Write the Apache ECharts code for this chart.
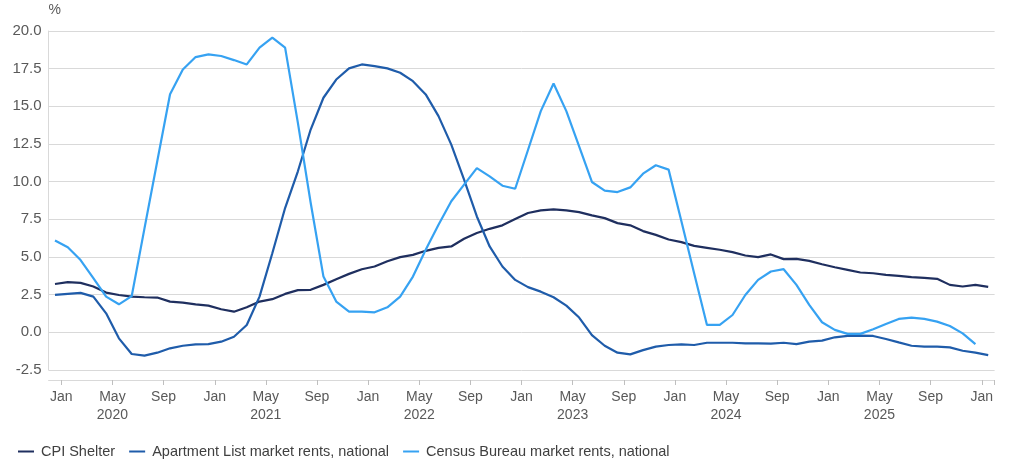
<!DOCTYPE html>
<html>
<head>
<meta charset="utf-8">
<script src="https://cdn.jsdelivr.net/npm/echarts@6/dist/echarts.min.js"></script>
<style>
  html, body { margin: 0; padding: 0; background: #ffffff; }
  #chart { width: 1024px; height: 461px; }
</style>
</head>
<body>
<div id="chart"></div>
<script>
// Monthly categories (first point Dec 2019, last Jan 2026)
const months = [
  "2019-12",
  "2020-01","2020-02","2020-03","2020-04","2020-05","2020-06","2020-07","2020-08","2020-09","2020-10","2020-11","2020-12",
  "2021-01","2021-02","2021-03","2021-04","2021-05","2021-06","2021-07","2021-08","2021-09","2021-10","2021-11","2021-12",
  "2022-01","2022-02","2022-03","2022-04","2022-05","2022-06","2022-07","2022-08","2022-09","2022-10","2022-11","2022-12",
  "2023-01","2023-02","2023-03","2023-04","2023-05","2023-06","2023-07","2023-08","2023-09","2023-10","2023-11","2023-12",
  "2024-01","2024-02","2024-03","2024-04","2024-05","2024-06","2024-07","2024-08","2024-09","2024-10","2024-11","2024-12",
  "2025-01","2025-02","2025-03","2025-04","2025-05","2025-06","2025-07","2025-08","2025-09","2025-10","2025-11","2025-12",
  "2026-01"
];

// Tick labels shown on the x axis
const tickMonthLabels = { "01": "Jan", "05": "May", "09": "Sep" };
const yearLabelMonth = "05";

// Series values (%)
const cpiShelter = [
  3.21, 3.33, 3.28, 3.04, 2.64, 2.48, 2.37, 2.33, 2.31, 2.04,
  1.97, 1.86, 1.77, 1.53, 1.37, 1.66, 2.04, 2.20, 2.55, 2.80,
  2.82, 3.15, 3.53, 3.88, 4.19, 4.37, 4.72, 4.99, 5.14, 5.41,
  5.61, 5.70, 6.21, 6.59, 6.87, 7.10, 7.52, 7.92, 8.09, 8.16,
  8.09, 7.98, 7.76, 7.58, 7.25, 7.10, 6.72, 6.47, 6.16, 5.99,
  5.74, 5.61, 5.48, 5.32, 5.10, 4.99, 5.17, 4.86, 4.88, 4.74,
  4.52, 4.32, 4.15, 3.97, 3.92, 3.81, 3.75, 3.66, 3.61, 3.55,
  3.15, 3.04, 3.15, 3.02
];

const apartmentList = [
  2.48, 2.55, 2.62, 2.37, 1.26, -0.40, -1.44, -1.55, -1.35, -1.06,
  -0.89, -0.80, -0.78, -0.62, -0.29, 0.49, 2.37, 5.25, 8.25, 10.69,
  13.46, 15.57, 16.78, 17.52, 17.78, 17.67, 17.52, 17.23, 16.67, 15.79,
  14.35, 12.46, 10.13, 7.69, 5.70, 4.37, 3.48, 3.00, 2.70, 2.33,
  1.77, 0.98, -0.18, -0.89, -1.35, -1.46, -1.18, -0.95, -0.84, -0.80,
  -0.84, -0.69, -0.69, -0.69, -0.73, -0.73, -0.75, -0.69, -0.78, -0.62,
  -0.55, -0.33, -0.24, -0.22, -0.24, -0.44, -0.67, -0.89, -0.95, -0.95,
  -1.00, -1.22, -1.35, -1.51
];

const censusBureau = [
  6.10, 5.65, 4.80, 3.60, 2.37, 1.86, 2.40, 6.90, 11.35, 15.80,
  17.45, 18.27, 18.45, 18.34, 18.07, 17.78, 18.90, 19.56, 18.90, 13.90,
  8.60, 3.70, 2.04, 1.37, 1.37, 1.33, 1.66, 2.37, 3.70, 5.48,
  7.14, 8.70, 9.80, 10.90, 10.35, 9.73, 9.53, 12.10, 14.68, 16.52,
  14.68, 12.35, 9.98, 9.40, 9.31, 9.62, 10.53, 11.09, 10.80, 7.38,
  3.90, 0.49, 0.49, 1.15, 2.48, 3.48, 4.04, 4.19, 3.15, 1.82,
  0.67, 0.16, -0.10, -0.10, 0.20, 0.55, 0.89, 0.98, 0.89, 0.71,
  0.42, -0.07, -0.78
];

const seriesNames = [
  "CPI Shelter",
  "Apartment List market rents, national",
  "Census Bureau market rents, national"
];
const seriesColors = ["#1f2f5f", "#1f5caa", "#36a2f2"];

const isTick = (index, value) => {
  const m = String(value).split("-")[1];
  return m in tickMonthLabels;
};

const chart = echarts.init(document.getElementById("chart"), null, { renderer: "canvas" });
const FONT = "'Liberation Sans', Arial, sans-serif";

chart.setOption({
  animation: false,
  backgroundColor: "#ffffff",
  grid: { left: 48.6, right: 29.4, top: 31, bottom: 91, containLabel: false },
  legend: {
    left: 13,
    top: 439,
    icon: "rect",
    itemWidth: 16,
    itemHeight: 2,
    itemGap: 14,
    textStyle: { fontFamily: FONT, fontSize: 14.5, color: "#404040", padding: [0, 0, 0, 2] },
    data: seriesNames
  },
  xAxis: {
    type: "category",
    data: months,
    boundaryGap: true,
    offset: 10,
    axisLine: { show: true, onZero: false, lineStyle: { color: "#d9d9d9", width: 1 } },
    axisTick: { show: true, interval: isTick, length: 5, lineStyle: { color: "#bfbfbf" } },
    splitLine: { show: false },
    axisLabel: {
      interval: isTick,
      margin: 8,
      fontFamily: FONT,
      fontSize: 14,
      color: "#595959",
      lineHeight: 18,
      align: "center",
      padding: [0, 13, 0, 0],
      formatter: (value) => {
        const [y, m] = value.split("-");
        const name = tickMonthLabels[m] || "";
        return m === yearLabelMonth ? name + "\n" + y : name;
      }
    }
  },
  yAxis: {
    type: "value",
    min: -2.5,
    max: 20,
    interval: 2.5,
    name: "%",
    nameLocation: "end",
    nameGap: 14,
    nameTextStyle: { fontFamily: FONT, fontSize: 14, color: "#595959", align: "left" },
    axisLine: { show: true, lineStyle: { color: "#d9d9d9", width: 1 } },
    axisTick: { show: false },
    splitLine: { show: true, lineStyle: { color: "#d9d9d9", width: 1 } },
    axisLabel: {
      margin: 7,
      fontFamily: FONT,
      fontSize: 15,
      color: "#595959",
      formatter: (v) => v.toFixed(1)
    }
  },
  series: [
    { name: seriesNames[0], type: "line", data: cpiShelter, symbol: "none", showSymbol: false,
      lineStyle: { color: seriesColors[0], width: 2.2 }, itemStyle: { color: seriesColors[0] } },
    { name: seriesNames[1], type: "line", data: apartmentList, symbol: "none", showSymbol: false,
      lineStyle: { color: seriesColors[1], width: 2.2 }, itemStyle: { color: seriesColors[1] } },
    { name: seriesNames[2], type: "line", data: censusBureau, symbol: "none", showSymbol: false,
      lineStyle: { color: seriesColors[2], width: 2.2 }, itemStyle: { color: seriesColors[2] } }
  ]
});
</script>
</body>
</html>
